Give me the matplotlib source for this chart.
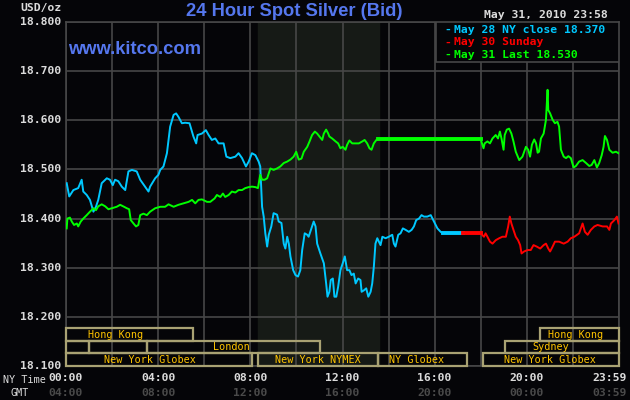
import matplotlib
matplotlib.use("Agg")
import matplotlib.pyplot as plt
from matplotlib.patches import Rectangle
import matplotlib.transforms as mtransforms

# --- data (hours NY time, USD/oz) ---
blue_hours = [0.03, 0.14, 0.32, 0.53, 0.68, 0.75, 0.90, 1.04, 1.19, 1.30, 1.40, 1.55, 1.77, 1.91,
              2.03, 2.13, 2.27, 2.42, 2.57, 2.71, 2.86, 3.07, 3.22, 3.43, 3.58, 3.65, 3.87, 4.01,
              4.09, 4.23, 4.38, 4.52, 4.67, 4.78, 4.88, 5.03, 5.17, 5.36, 5.53, 5.65, 5.71, 5.90,
              6.07, 6.19, 6.33, 6.48, 6.62, 6.84, 6.96, 7.13, 7.35, 7.49, 7.64, 7.81, 7.93, 8.07,
              8.22, 8.36, 8.43, 8.51, 8.58, 8.65, 8.73, 8.80, 8.91, 9.01, 9.16, 9.23, 9.35, 9.45,
              9.52, 9.60, 9.67, 9.74, 9.86, 9.96, 10.07, 10.17, 10.25, 10.36, 10.47, 10.53, 10.68,
              10.75, 10.83, 10.90, 11.04, 11.19, 11.29, 11.35, 11.43, 11.49, 11.58, 11.65, 11.73,
              11.81, 11.91, 12.01, 12.10, 12.20, 12.30, 12.39, 12.49, 12.57, 12.68, 12.78, 12.83,
              12.93, 13.03, 13.12, 13.22, 13.29, 13.36, 13.43, 13.51, 13.58, 13.65, 13.73, 13.87,
              14.01, 14.16, 14.23, 14.30, 14.42, 14.52, 14.62, 14.74, 14.88, 15.00, 15.10, 15.20,
              15.32, 15.43, 15.53, 15.68, 15.83, 15.97, 16.12, 16.26, 16.35]
blue_prices = [18.472, 18.445, 18.458, 18.462, 18.479, 18.455, 18.448, 18.438, 18.414, 18.424,
               18.438, 18.472, 18.482, 18.479, 18.468, 18.479, 18.476, 18.465, 18.458, 18.496,
               18.499, 18.496, 18.479, 18.465, 18.455, 18.465, 18.482, 18.489, 18.499, 18.506,
               18.533, 18.587, 18.611, 18.614, 18.607, 18.594, 18.595, 18.594, 18.567, 18.553,
               18.570, 18.573, 18.580, 18.570, 18.560, 18.563, 18.553, 18.553, 18.526, 18.523,
               18.526, 18.533, 18.523, 18.506, 18.516, 18.533, 18.529, 18.516, 18.506, 18.424,
               18.404, 18.370, 18.343, 18.367, 18.384, 18.411, 18.408, 18.394, 18.391, 18.349,
               18.339, 18.363, 18.349, 18.323, 18.295, 18.285, 18.282, 18.295, 18.336, 18.370,
               18.367, 18.363, 18.384, 18.394, 18.384, 18.349, 18.329, 18.309, 18.268, 18.241,
               18.251, 18.275, 18.278, 18.241, 18.241, 18.261, 18.295, 18.309, 18.323, 18.295,
               18.295, 18.285, 18.288, 18.268, 18.278, 18.275, 18.251, 18.254, 18.258, 18.241,
               18.251, 18.268, 18.302, 18.349, 18.360, 18.353, 18.346, 18.363, 18.360, 18.363,
               18.367, 18.349, 18.343, 18.367, 18.370, 18.380, 18.377, 18.373, 18.377, 18.384,
               18.397, 18.400, 18.407, 18.404, 18.404, 18.407, 18.394, 18.380, 18.373, 18.370]

red_hours = [18.00, 18.14, 18.21, 18.29, 18.40, 18.51, 18.65, 18.80, 18.94, 19.09, 19.19, 19.26,
             19.33, 19.42, 19.52, 19.62, 19.71, 19.77, 19.88, 20.03, 20.17, 20.29, 20.43, 20.58,
             20.73, 20.83, 20.93, 21.01, 21.12, 21.22, 21.40, 21.60, 21.77, 21.91, 22.06, 22.27,
             22.42, 22.52, 22.64, 22.78, 22.93, 23.07, 23.29, 23.48, 23.58, 23.65, 23.80, 23.91,
             23.98]
red_prices = [18.370, 18.363, 18.370, 18.363, 18.353, 18.349, 18.356, 18.360, 18.363, 18.363,
              18.384, 18.404, 18.390, 18.377, 18.363, 18.356, 18.346, 18.329, 18.333, 18.336,
              18.336, 18.346, 18.343, 18.339, 18.346, 18.349, 18.339, 18.333, 18.343, 18.353,
              18.353, 18.349, 18.353, 18.360, 18.363, 18.370, 18.390, 18.373, 18.367, 18.377,
              18.384, 18.387, 18.384, 18.384, 18.377, 18.390, 18.397, 18.404, 18.390]

green_hours = [0.03, 0.06, 0.17, 0.25, 0.35, 0.47, 0.53, 0.64, 0.75, 0.90, 1.04, 1.19, 1.30, 1.40,
               1.55, 1.70, 1.84, 1.99, 2.20, 2.35, 2.52, 2.64, 2.74, 2.81, 2.93, 3.04, 3.14, 3.22,
               3.36, 3.51, 3.65, 3.87, 4.09, 4.30, 4.45, 4.67, 4.88, 5.10, 5.32, 5.47, 5.61, 5.75,
               5.90, 6.12, 6.26, 6.45, 6.55, 6.70, 6.81, 6.91, 7.06, 7.20, 7.35, 7.49, 7.64, 7.78,
               7.93, 8.07, 8.22, 8.33, 8.43, 8.51, 8.62, 8.73, 8.87, 9.01, 9.16, 9.30, 9.45, 9.60,
               9.74, 9.88, 9.99, 10.10, 10.22, 10.32, 10.47, 10.57, 10.68, 10.80, 10.90, 11.00,
               11.12, 11.19, 11.29, 11.38, 11.43, 11.55, 11.70, 11.81, 11.91, 12.01, 12.13, 12.20,
               12.30, 12.42, 12.57, 12.71, 12.86, 12.96, 13.07, 13.17, 13.26, 13.36, 13.47, 13.55]
green_prices = [18.380, 18.400, 18.402, 18.394, 18.387, 18.390, 18.384, 18.394, 18.400, 18.407,
                18.414, 18.421, 18.417, 18.425, 18.429, 18.425, 18.419, 18.421, 18.424, 18.428,
                18.424, 18.421, 18.419, 18.397, 18.390, 18.384, 18.387, 18.407, 18.410, 18.407,
                18.414, 18.421, 18.424, 18.424, 18.429, 18.424, 18.428, 18.431, 18.434, 18.438,
                18.431, 18.438, 18.439, 18.434, 18.434, 18.441, 18.448, 18.444, 18.451, 18.444,
                18.448, 18.455, 18.453, 18.458, 18.458, 18.462, 18.464, 18.465, 18.464, 18.462,
                18.489, 18.479, 18.479, 18.482, 18.502, 18.499, 18.502, 18.506, 18.513, 18.516,
                18.520, 18.526, 18.536, 18.520, 18.522, 18.536, 18.546, 18.557, 18.570, 18.577,
                18.573, 18.567, 18.560, 18.573, 18.581, 18.573, 18.567, 18.563, 18.557, 18.553,
                18.543, 18.546, 18.540, 18.550, 18.559, 18.553, 18.553, 18.553, 18.557, 18.560,
                18.553, 18.543, 18.540, 18.553, 18.560, 18.561]
green2_hours = [18.00, 18.12, 18.17, 18.29, 18.40, 18.51, 18.65, 18.75, 18.83, 18.90, 18.99, 19.04,
                19.13, 19.23, 19.33, 19.42, 19.52, 19.67, 19.81, 19.96, 20.06, 20.14, 20.22, 20.32,
                20.40, 20.47, 20.53, 20.61, 20.73, 20.83, 20.90, 20.93, 21.01, 21.12, 21.22, 21.33,
                21.40, 21.48, 21.60, 21.70, 21.80, 21.91, 22.03, 22.13, 22.27, 22.42, 22.57, 22.71,
                22.81, 22.93, 23.04, 23.14, 23.25, 23.33, 23.39, 23.48, 23.58, 23.72, 23.87, 23.98]
green2_prices = [18.561, 18.543, 18.553, 18.557, 18.553, 18.563, 18.570, 18.563, 18.577, 18.563,
                 18.540, 18.570, 18.581, 18.583, 18.573, 18.557, 18.536, 18.519, 18.526, 18.546,
                 18.540, 18.526, 18.550, 18.561, 18.553, 18.534, 18.536, 18.563, 18.573, 18.601,
                 18.662, 18.621, 18.614, 18.601, 18.594, 18.597, 18.587, 18.540, 18.526, 18.523,
                 18.527, 18.523, 18.504, 18.507, 18.516, 18.519, 18.513, 18.507, 18.509, 18.519,
                 18.504, 18.513, 18.529, 18.546, 18.568, 18.560, 18.540, 18.534, 18.536, 18.533]

# flat (no trading) stretches: (start hour, end hour, price)
blue_flat = (16.35, 17.25, 18.370)
red_flat = (17.25, 18.00, 18.370)
green_flat = (13.55, 18.00, 18.561)

legend_labels = ["May 28 NY close 18.370", "May 30 Sunday", "May 31 Last 18.530"]
y_ticks = [18.1, 18.2, 18.3, 18.4, 18.5, 18.6, 18.7, 18.8]
ny_ticks = [0, 4, 8, 12, 16, 20, 23.57]
ny_labels = ["00:00", "04:00", "08:00", "12:00", "16:00", "20:00", "23:59"]
gmt_labels = ["04:00", "08:00", "12:00", "16:00", "20:00", "00:00", "03:59"]

# market sessions: (row, start, end, label, label hour)
markets = [
    (0, 0.0, 5.52, "Hong Kong", 2.13),
    (0, 20.57, 24.0, "Hong Kong", 22.1),
    (1, 0.0, 1.0, "", 0),
    (1, 1.0, 3.52, "", 0),
    (1, 3.52, 11.04, "London", 7.17),
    (1, 19.04, 24.0, "Sydney", 21.04),
    (2, 0.0, 8.07, "New York Globex", 3.65),
    (2, 8.32, 13.55, "New York NYMEX", 10.93),
    (2, 13.55, 17.42, "NY Globex", 15.22),
    (2, 18.1, 24.0, "New York Globex", 21.0),
]
nymex_open, nymex_close = 8.35, 13.6

BG = "#050508"
GRID = "#474747"
BLUE = "#00c8ff"
RED = "#ff0000"
GREEN = "#00ff00"
MONO = "DejaVu Sans Mono"

fig = plt.figure(figsize=(6.3, 4.0), dpi=100, facecolor=BG)
ax = fig.add_axes([66 / 630, 34 / 400, 553 / 630, 344 / 400], facecolor=BG)
ax.set_xlim(0, 24.0)
ax.set_ylim(18.1, 18.8)

ax.axvspan(nymex_open, nymex_close, color="#161a16", zorder=0)
ax.set_xticks(range(0, 25, 2))
ax.set_yticks(y_ticks)
ax.grid(True, color=GRID, lw=1.2, zorder=1)
ax.tick_params(length=0, labelbottom=False, labelleft=False)
for s in ax.spines.values():
    s.set_color(GRID)
    s.set_linewidth(1.2)

# price lines
ax.plot(blue_hours, blue_prices, color=BLUE, lw=1.4, zorder=3)
ax.plot(blue_flat[:2], [blue_flat[2]] * 2, color=BLUE, lw=2.8, zorder=3)
ax.plot(red_flat[:2], [red_flat[2]] * 2, color=RED, lw=2.8, zorder=3)
ax.plot(red_hours, red_prices, color=RED, lw=1.4, zorder=3)
ax.plot(green_hours, green_prices, color=GREEN, lw=1.4, zorder=4)
ax.plot(green_flat[:2], [green_flat[2]] * 2, color=GREEN, lw=2.8, zorder=4)
ax.plot(green2_hours, green2_prices, color=GREEN, lw=1.4, zorder=4)

# market session boxes along the bottom
row_edges = [18.177, 18.151, 18.126, 18.1]
for row, x0, x1, name, lx in markets:
    top, bot = row_edges[row], row_edges[row + 1]
    ax.add_patch(Rectangle((x0, bot), x1 - x0, top - bot, fill=False,
                           edgecolor="#a9a273", lw=1.6, zorder=5, clip_on=False))
    if name:
        ax.text(lx, (top + bot) / 2, name, color="#ffc400", fontsize=7.3, family=MONO,
                ha="center", va="center", zorder=6)

# legend box in upper right
ax.add_patch(Rectangle((16.04, 18.719), 24.0 - 16.04, 0.081, facecolor=BG,
                       edgecolor=GRID, lw=1.2, zorder=6))
lt = mtransforms.blended_transform_factory(ax.transData, ax.transAxes)
for i, (lab, col) in enumerate(zip(legend_labels, [BLUE, RED, GREEN])):
    y = 0.978 - i * 0.037
    ax.text(16.43, y, "-", color=col, fontsize=8.2, family=MONO, weight="bold",
            transform=lt, ha="left", va="center", zorder=7)
    ax.text(16.85, y, lab, color=col, fontsize=8.2, family=MONO, weight="bold",
            transform=lt, ha="left", va="center", zorder=7)

# axis labels drawn as text
for v in y_ticks:
    ax.text(-0.2, v, f"{v:.3f}", color="#dcdcdc", fontsize=8.2, family=MONO, weight="bold",
            ha="right", va="center")
xt = mtransforms.blended_transform_factory(ax.transData, fig.transFigure)
for h, a, b in zip(ny_ticks, ny_labels, gmt_labels):
    ax.text(h, 1 - 378 / 400, a, color="#dcdcdc", fontsize=8.2, family=MONO, weight="bold",
            ha="center", va="center", transform=xt)
    ax.text(h, 1 - 393 / 400, b, color="#4a4a4a", fontsize=8.2, family=MONO, weight="bold",
            ha="center", va="center", transform=xt)
fig.text(24 / 630, 1 - 380 / 400, "NY Time", color="#dcdcdc", fontsize=7.3, family=MONO,
         ha="center", va="center")
fig.text(20 / 630, 1 - 393 / 400, "GMT", color="#dcdcdc", fontsize=7.3, family=MONO,
         ha="center", va="center")
fig.text(41 / 630, 1 - 8 / 400, "USD/oz", color="#dcdcdc", fontsize=8.2, family=MONO,
         weight="bold", ha="center", va="center")

fig.text(294 / 630, 1 - 11 / 400, "24 Hour Spot Silver (Bid)", color="#5577ee", fontsize=13.2,
         family="Liberation Sans", weight="bold", ha="center", va="center")
fig.text(68 / 630, 1 - 50 / 400, "www.kitco.com", color="#5577ee", fontsize=13.2,
         family="Liberation Sans", weight="bold", ha="left", va="center")
fig.text(608 / 630, 1 - 15 / 400, "May 31, 2010 23:58", color="#dcdcdc", fontsize=8.2,
         family=MONO, weight="bold", ha="right", va="center")

fig.savefig("out.png", dpi=100, facecolor=BG)
